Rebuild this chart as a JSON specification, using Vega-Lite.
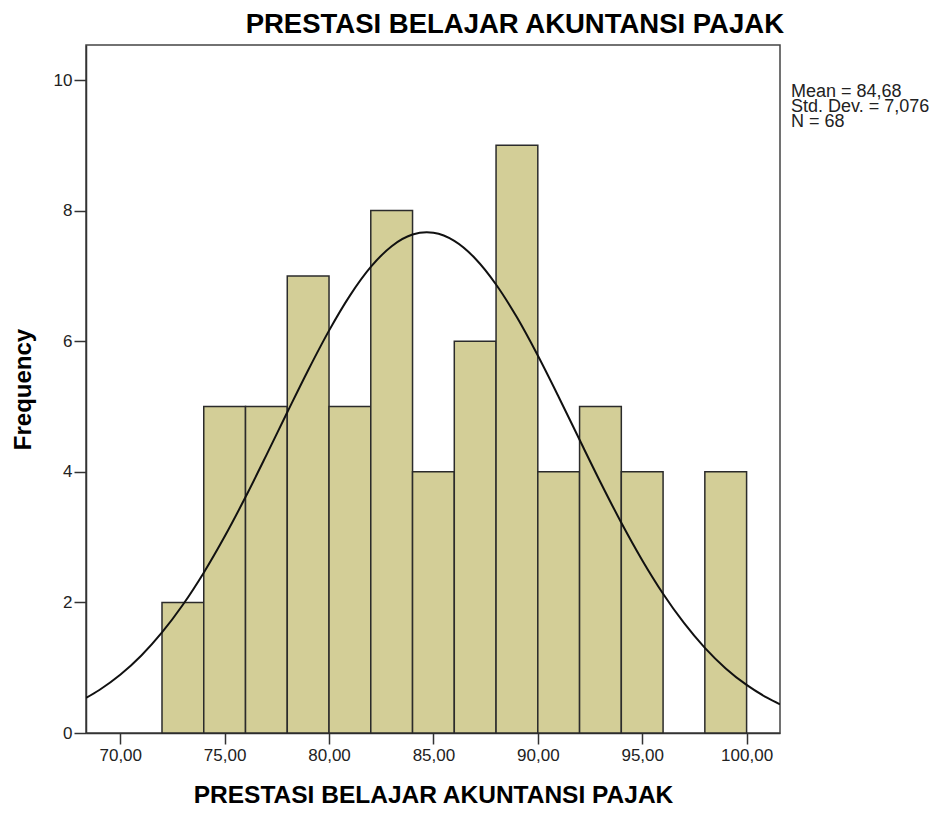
{
  "$schema": "https://vega.github.io/schema/vega-lite/v6.json",
  "width": 694,
  "height": 688,
  "autosize": {"type": "none"},
  "padding": {"left": 86, "top": 45, "right": 158, "bottom": 80},
  "background": "white",
  "title": {
    "text": "PRESTASI BELAJAR AKUNTANSI PAJAK",
    "anchor": "end",
    "frame": "group",
    "font": "Liberation Sans",
    "fontSize": 27.5,
    "fontWeight": "bold",
    "color": "#000000",
    "baseline": "alphabetic",
    "offset": 12,
    "dx": 4,
    "dy": 27
  },
  "datasets": {
    "bins": [
      {"start": 72, "end": 74, "count": 2},
      {"start": 74, "end": 76, "count": 5},
      {"start": 76, "end": 78, "count": 5},
      {"start": 78, "end": 80, "count": 7},
      {"start": 80, "end": 82, "count": 5},
      {"start": 82, "end": 84, "count": 8},
      {"start": 84, "end": 86, "count": 4},
      {"start": 86, "end": 88, "count": 6},
      {"start": 88, "end": 90, "count": 9},
      {"start": 90, "end": 92, "count": 4},
      {"start": 92, "end": 94, "count": 5},
      {"start": 94, "end": 96, "count": 4},
      {"start": 98, "end": 100, "count": 4}
    ],
    "curve": [
      {"x": 68.36, "y": 0.537},
      {"x": 69, "y": 0.659},
      {"x": 70, "y": 0.891},
      {"x": 71, "y": 1.183},
      {"x": 72, "y": 1.540},
      {"x": 73, "y": 1.964},
      {"x": 74, "y": 2.455},
      {"x": 75, "y": 3.008},
      {"x": 76, "y": 3.613},
      {"x": 77, "y": 4.255},
      {"x": 78, "y": 4.911},
      {"x": 79, "y": 5.556},
      {"x": 80, "y": 6.162},
      {"x": 81, "y": 6.698},
      {"x": 82, "y": 7.137},
      {"x": 83, "y": 7.455},
      {"x": 84, "y": 7.633},
      {"x": 84.68, "y": 7.668},
      {"x": 85, "y": 7.660},
      {"x": 86, "y": 7.536},
      {"x": 87, "y": 7.267},
      {"x": 88, "y": 6.869},
      {"x": 89, "y": 6.365},
      {"x": 90, "y": 5.780},
      {"x": 91, "y": 5.146},
      {"x": 92, "y": 4.490},
      {"x": 93, "y": 3.841},
      {"x": 94, "y": 3.220},
      {"x": 95, "y": 2.647},
      {"x": 96, "y": 2.133},
      {"x": 97, "y": 1.685},
      {"x": 98, "y": 1.304},
      {"x": 99, "y": 0.989},
      {"x": 100, "y": 0.736},
      {"x": 101, "y": 0.537},
      {"x": 101.6, "y": 0.440}
    ],
    "stats": [
      {"label": "Mean = 84,68|Std. Dev. = 7,076|N = 68"}
    ]
  },
  "layer": [
    {
      "data": {"name": "bins"},
      "mark": {"type": "rect", "fill": "#D3CE97", "stroke": "#2b2b2b", "strokeWidth": 1.5},
      "encoding": {
        "x": {
          "field": "start",
          "type": "quantitative",
          "scale": {"domain": [68.36, 101.6], "nice": false, "zero": false},
          "axis": {
            "values": [70, 75, 80, 85, 90, 95, 100],
            "labelExpr": "replace(format(datum.value, '.2f'), '.', ',')",
            "title": "PRESTASI BELAJAR AKUNTANSI PAJAK",
            "titleFont": "Liberation Sans",
            "titleFontSize": 24.5,
            "titleFontWeight": "bold",
            "titleColor": "#000000",
            "titlePadding": 20,
            "labelFont": "Liberation Sans",
            "labelFontSize": 17,
            "labelColor": "#222222",
            "labelPadding": 3,
            "tickSize": 11,
            "tickColor": "#333333",
            "tickWidth": 1.5,
            "domainColor": "#333333",
            "domainWidth": 1.5,
            "grid": false
          }
        },
        "x2": {"field": "end"},
        "y": {
          "field": "count",
          "type": "quantitative",
          "scale": {"domain": [0, 10.536], "nice": false},
          "axis": {
            "values": [0, 2, 4, 6, 8, 10],
            "format": "d",
            "title": "Frequency",
            "titleFont": "Liberation Sans",
            "titleFontSize": 24,
            "titleFontWeight": "bold",
            "titleColor": "#000000",
            "titlePadding": 18,
            "labelFont": "Liberation Sans",
            "labelFontSize": 17,
            "labelColor": "#222222",
            "labelPadding": 2,
            "tickSize": 12,
            "tickColor": "#333333",
            "tickWidth": 1.5,
            "domainColor": "#333333",
            "domainWidth": 1.5,
            "grid": false
          }
        },
        "y2": {"datum": 0}
      }
    },
    {
      "data": {"name": "curve"},
      "mark": {"type": "line", "stroke": "#111111", "strokeWidth": 2, "interpolate": "monotone", "clip": true},
      "encoding": {
        "x": {"field": "x", "type": "quantitative"},
        "y": {"field": "y", "type": "quantitative"}
      }
    },
    {
      "data": {"name": "stats"},
      "mark": {"type": "point", "opacity": 0},
      "encoding": {
        "color": {
          "field": "label",
          "type": "nominal",
          "scale": {"range": ["#000000"]},
          "legend": {
            "title": null,
            "orient": "none",
            "legendX": 687,
            "legendY": 29,
            "padding": 0,
            "symbolSize": 0,
            "symbolStrokeWidth": 0,
            "symbolOpacity": 0,
            "labelOffset": 0,
            "labelFont": "Liberation Sans",
            "labelFontSize": 18,
            "labelColor": "#222222",
            "labelLimit": 300,
            "labelBaseline": "top",
            "labelExpr": "split(datum.label, '|')"
          }
        }
      }
    }
  ],
  "config": {
    "view": {"fill": "#F0F0F0", "stroke": "#444444", "strokeWidth": 1.5},
    "style": {"guide-label": {"lineHeight": 15}}
  }
}
